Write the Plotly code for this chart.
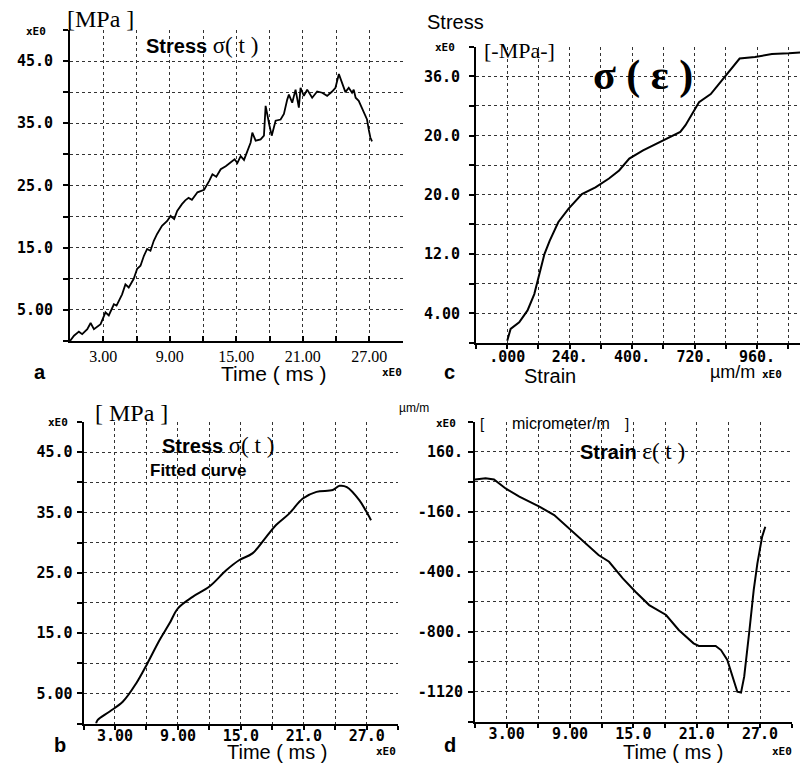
import plotly.graph_objects as go

W, H = 800, 764

# ---------------- data ----------------
# Panel a: measured stress vs time
a_time = [0, 0.36, 0.8, 1.1, 1.56, 1.86, 2.16, 2.76, 3.2, 3.5, 3.96, 4.2, 4.7, 5.0, 5.3, 5.75,
          6.06, 6.36, 6.67, 6.96, 7.26, 7.56, 7.86, 8.3, 8.77, 9.07, 9.4, 9.67, 10.1, 10.4, 10.7,
          11.0, 11.5, 11.9, 12.1, 12.55, 12.85, 13.2, 13.6, 14.05, 14.5, 14.85, 15.1, 15.4, 15.7,
          16.0, 16.3, 16.45, 16.75, 17.2, 17.5, 17.65, 17.8, 18.0, 18.2, 18.55, 19.0, 19.3, 19.6,
          19.75, 20.05, 20.35, 20.65, 20.8, 21.1, 21.4, 21.85, 22.3, 22.75, 23.2, 23.65, 23.95,
          24.26, 24.55, 24.85, 25.15, 25.45, 25.6, 25.77, 26.05, 26.35, 26.65, 26.8, 26.95, 27.1, 27.25]
a_stress = [0, 0.85, 1.5, 1.1, 1.9, 2.9, 1.9, 2.7, 4.6, 4.1, 5.9, 5.7, 7.5, 9.1, 8.6, 10,
            11.6, 12.1, 13.7, 14.8, 14.5, 16.1, 17.2, 18.5, 19.3, 20.1, 19.6, 20.9, 22, 22.6, 23,
            22.7, 23.9, 24.1, 24.3, 25.7, 26.8, 26.4, 27.6, 28.1, 28.7, 29.2, 28.6, 29.7, 29.1,
            30.5, 31.9, 33.5, 32.2, 32.4, 33, 37.8, 36.2, 34.6, 33, 35.4, 35.6, 36.5, 38.8,
            39.6, 38.3, 40.4, 37.5, 40.7, 39.4, 40.4, 39.1, 40.1, 39.9, 39.4, 40.1, 40.7,
            42.9, 41.6, 40, 40.7, 39.9, 40.4, 39.1, 38.6, 37.5, 36.4, 35.6, 34, 32.7, 32.1]

# Panel b: fitted stress curve vs time
b_time = [1.2, 1.36, 2.5, 3.74, 5.0, 6.1, 7.24, 8.2, 9.0, 10.4, 12.0, 13.6, 14.86, 16.1, 17.4,
          18.35, 19.6, 20.9, 22.2, 23.75, 24.4, 25.1, 26.3, 26.9, 27.4]
b_stress = [0, 0.6, 2.0, 3.6, 6.6, 10, 13.8, 16.6, 19.1, 21, 22.7, 25.4, 27.1, 28.2, 30.9,
            32.9, 34.8, 37.3, 38.4, 38.7, 39.4, 39.2, 37, 35.3, 33.7]

# Panel c: stress vs strain
c_strain = [0, 13, 46, 78, 104, 124, 143, 163, 196, 235, 287, 339, 391, 430, 469, 522, 574,
            626, 665, 685, 717, 737, 782, 815, 841, 874, 893, 952, 1017, 1082, 1148]
c_stress = [0.3, 1.9, 2.8, 4.4, 6.6, 9.3, 12, 13.8, 16.3, 18.1, 20.1, 21, 22.2, 23.3, 24.9, 26,
            26.9, 27.8, 28.5, 29.4, 31.4, 32.5, 33.6, 35, 36.1, 37.5, 38.4, 38.6, 39, 39.1, 39.3]

# Panel d: strain vs time
d_time = [0, 1.0, 1.8, 2.9, 4.2, 6.1, 7.5, 8.9, 10.5, 11.7, 12.7, 14, 15.2, 16.5, 18.1, 19.3,
          20.7, 21.2, 22.8, 23.3, 23.9, 24.4, 24.85, 25.2, 25.5, 26, 26.4, 26.75, 27.2, 27.5]
d_strain = [12, 18, 12, -36, -80, -133, -178, -249, -329, -391, -427, -516, -587, -658, -711,
            -791, -862, -876, -876, -898, -951, -1040, -1120, -1125, -1040, -791, -578, -436,
            -293, -240]

# tick labels (as printed)
time_grid = [0, 3, 6, 9, 12, 15, 18, 21, 24, 27, 30]
a_xlabels = {3: "3.00", 9: "9.00", 15: "15.00", 21: "21.00", 27: "27.00"}
bd_xlabels = {3: "3.00", 9: "9.00", 15: "15.0", 21: "21.0", 27: "27.0"}
stress_grid = [0, 5, 10, 15, 20, 25, 30, 35, 40, 45, 50]
stress_labels = {5: "5.00", 15: "15.0", 25: "25.0", 35: "35.0", 45: "45.0"}
c_xgrid = [-120, 0, 120, 240, 360, 480, 600, 720, 840, 960, 1080]
c_xlabels = {0: ".000", 240: "240.", 480: "400.", 720: "720.", 960: "960."}
c_ygrid = [0, 4, 8, 12, 16, 20, 24, 28, 32, 36, 40]
c_ylabels = {4: "4.00", 12: "12.0", 20: "20.0", 28: "20.0", 36: "36.0"}
d_ygrid = [-1280, -1120, -960, -800, -640, -480, -320, -160, 0, 160, 320]
d_ylabels = {160: "160.", -160: "-160.", -480: "-400.", -800: "-800.", -1120: "-1120"}

# ---------------- helpers ----------------
def px(x):
    return x / W

def py(y):
    return 1 - y / H

MONO = dict(family="DejaVu Sans Mono", size=15, color="black", weight="bold")
SERIF_TICK = dict(family="Liberation Serif", size=16, color="black")


def axis(domain, rng, grid, labels, font, standoff=0, ticklen=5, ticks="outside"):
    return dict(
        domain=domain, range=rng, tickmode="array", tickvals=grid,
        ticktext=[labels.get(v, "") for v in grid],
        showgrid=True, gridcolor="#333", griddash="dot", gridwidth=1,
        showline=True, linecolor="black", linewidth=2,
        ticks=ticks, ticklen=ticklen, tickwidth=1.5, tickcolor="black",
        zeroline=False, tickfont=font, fixedrange=True, ticklabelstandoff=standoff,
    )


fig = go.Figure()
line = dict(color="black", width=2)
fig.add_trace(go.Scatter(x=a_time, y=a_stress, mode="lines", line=dict(color="black", width=1.8),
                         xaxis="x", yaxis="y"))
fig.add_trace(go.Scatter(x=c_strain, y=c_stress, mode="lines", line=line, xaxis="x2", yaxis="y2"))
fig.add_trace(go.Scatter(x=b_time, y=b_stress, mode="lines", line=line, xaxis="x3", yaxis="y3",
                         line_shape="spline"))
fig.add_trace(go.Scatter(x=d_time, y=d_strain, mode="lines", line=line, xaxis="x4", yaxis="y4"))

fig.update_layout(
    width=W, height=H, margin=dict(l=0, r=0, t=0, b=0),
    paper_bgcolor="white", plot_bgcolor="white", showlegend=False,
    xaxis=dict(axis([px(70), px(402.5)], [0, 30], time_grid, a_xlabels, SERIF_TICK, 0, 5, "inside"), anchor="y"),
    yaxis=dict(axis([py(341), py(29.9)], [0, 50], stress_grid, stress_labels, MONO, 7), anchor="x"),
    xaxis2=dict(axis([px(476), 1.0], [-120, 1125], c_xgrid, c_xlabels, MONO, -5, 4), anchor="y2"),
    yaxis2=dict(axis([py(343), py(46.7)], [0, 40], c_ygrid, c_ylabels, MONO, 6), anchor="x2"),
    xaxis3=dict(axis([px(83.5), px(398.3)], [0, 30], time_grid, bd_xlabels, MONO, -7, 4), anchor="y3"),
    yaxis3=dict(axis([py(723.5), py(421.9)], [0, 50], stress_grid, stress_labels, MONO, 1), anchor="x3"),
    xaxis4=dict(axis([px(475), px(791.7)], [0, 30], time_grid, bd_xlabels, MONO, -7, 4), anchor="y4"),
    yaxis4=dict(axis([py(721.7), py(421.7)], [-1280, 320], d_ygrid, d_ylabels, MONO, 2), anchor="x4"),
)

SANS = "Liberation Sans"
SERIF = "Liberation Serif"


def note(x, y, text, size, family=SANS, bold=False, xanchor="center"):
    fig.add_annotation(x=px(x), y=py(y), xref="paper", yref="paper", text=text,
                       showarrow=False, xanchor=xanchor, yanchor="middle",
                       font=dict(family=family, size=size, color="black",
                                 weight="bold" if bold else "normal"))


SIG = '<span style="font-family:Liberation Serif;font-weight:normal;font-size:23px">σ( t )</span>'
EPS = '<span style="font-family:Liberation Serif;font-weight:normal;font-size:23px">ε( t )</span>'

# panel a
note(36, 31, "xE0", 11, "DejaVu Sans Mono", True)
note(100, 19, "[MPa ]", 24, SERIF)
note(202, 45, "<b>Stress</b> " + SIG, 20)
note(40, 372, "a", 20, SANS, True)
note(273, 373, "Time ( ms )", 21)
note(380, 372, "xE0", 11, "DejaVu Sans Mono", True, "left")

# panel c
note(456, 22, "Stress", 20)
note(445, 48, "xE0", 11, "DejaVu Sans Mono", True)
note(519, 50, "[-MPa-]", 22, SERIF)
note(643, 75, "σ ( ε )", 42, SERIF, True)
note(449, 372, "c", 20, SANS, True)
note(550, 376, "Strain", 20)
note(732, 372, "µm/m", 18)
note(760, 374, "xE0", 11, "DejaVu Sans Mono", True, "left")

# panel b
note(58, 422, "xE0", 11, "DejaVu Sans Mono", True)
note(131, 413, "[ MPa ]", 24, SERIF)
note(218, 445, "<b>Stress</b> " + SIG, 20)
note(148, 470, "Fitted curve", 17, SANS, True, "left")
note(60, 745, "b", 20, SANS, True)
note(277, 752, "Time ( ms )", 20)
note(374, 751, "xE0", 11, "DejaVu Sans Mono", True, "left")

# panel d
note(414, 408, "µm/m", 12)
note(446, 423, "xE0", 11, "DejaVu Sans Mono", True)
note(482, 423, "[", 15)
note(561, 423, "micrometer/m", 16)
note(627, 423, "]", 15)
note(632, 451, "<b>Strain</b> " + EPS, 20)
note(450, 745, "d", 20, SANS, True)
note(673, 752, "Time ( ms )", 20)
note(770, 751, "xE0", 11, "DejaVu Sans Mono", True, "left")

fig.write_html("out.html", config={"displayModeBar": False},
               post_script="document.body.style.margin='0';")
